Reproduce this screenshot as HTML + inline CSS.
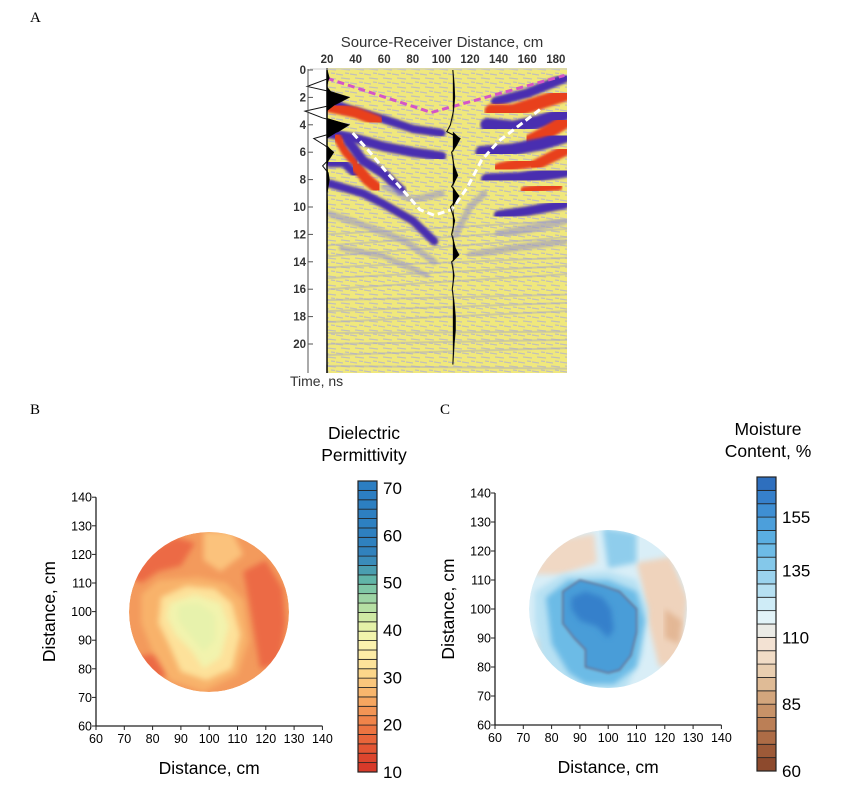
<!DOCTYPE html>
<html><head><meta charset="utf-8">
<style>
body{margin:0;background:#fff;width:865px;height:791px;overflow:hidden;font-family:"Liberation Sans",Arial,sans-serif;}
svg{position:absolute;left:0;top:0}
</style></head>
<body>
<svg id="fig" width="865" height="791" viewBox="0 0 865 791" xmlns="http://www.w3.org/2000/svg">
<defs>
<filter id="blur3"><feGaussianBlur stdDeviation="3"/></filter>
<filter id="blur2"><feGaussianBlur stdDeviation="2"/></filter>
<filter id="blur1"><feGaussianBlur stdDeviation="1.2"/></filter>
<clipPath id="clipA"><rect x="327" y="68" width="240" height="305"/></clipPath>
<clipPath id="clipB"><circle cx="209" cy="612" r="80"/></clipPath>
<clipPath id="clipC"><circle cx="608" cy="609" r="79"/></clipPath>
<pattern id="noise" width="14" height="9" patternUnits="userSpaceOnUse">
<rect width="14" height="9" fill="#f0e87c"/>
<path d="M0 2 L7 3 M5 6 L14 7 M9 1 L13 1.5" stroke="#b7b6c8" stroke-width="1.3" opacity="0.8"/>
</pattern>
</defs>
<text x="30" y="22" font-family="Liberation Serif,serif" font-size="15">A</text>
<text x="30" y="414" font-family="Liberation Serif,serif" font-size="15">B</text>
<text x="440" y="414" font-family="Liberation Serif,serif" font-size="15">C</text>
<g id="panelA"></g>
<g id="panelB"></g>
<g id="panelC"></g>
</svg>
<script>
const NS='http://www.w3.org/2000/svg';
function el(tag,attrs,parent,txt){const e=document.createElementNS(NS,tag);for(const k in attrs)e.setAttribute(k,attrs[k]);if(txt!==undefined)e.textContent=txt;parent.appendChild(e);return e;}

// ---------- Panel A data ----------
const aDistTicks=[20,40,60,80,100,120,140,160,180];
const aTimeTicks=[0,2,4,6,8,10,12,14,16,18,20];
const aPinkLine=[[20,0.6],[93,3.1],[186,0.4]];
const aWhiteLine=[[38,4.6],[50,6],[62,7.5],[75,9],[85,10.2],[95,10.6],[107,10.2],[118,8.6],[128,6.6],[140,5.2],[155,4],[170,2.8]];
const aBandColors=['#4a2fb0','#e8401c','#9a97c8'];
const aBands=[
 {c:0,w:0.6,p:[[20,2.3],[40,3.0],[60,3.6],[80,4.3],[100,4.6]]},
 {c:1,w:0.8,p:[[22,2.7],[40,3.1],[55,3.7]]},
 {c:0,w:0.7,p:[[20,4.6],[40,5.0],[60,5.6],[80,6.0],[100,6.3]]},
 {c:1,w:0.6,p:[[27,4.9],[33,6.0],[40,6.8]]},
 {c:0,w:0.6,p:[[22,6.8],[32,6.8],[40,7.6]]},
 {c:1,w:0.8,p:[[40,7.0],[48,8.0],[55,8.6]]},
 {c:0,w:0.7,p:[[35,5.2],[45,6.6],[60,7.6],[72,8.8]]},
 {c:0,w:0.6,p:[[22,8.3],[45,9.0],[60,9.8],[80,11.0],[95,12.5]]},
 {c:2,w:0.5,p:[[22,10.5],[50,11.5],[75,12.5],[95,14]]},
 {c:2,w:0.4,p:[[30,13],[60,13.6],[90,15]]},
 {c:0,w:0.7,p:[[138,2.3],[160,1.7],[186,0.6]]},
 {c:1,w:1.0,p:[[135,3.0],[150,3.0],[165,2.5],[186,1.8]]},
 {c:0,w:1.0,p:[[132,4.0],[150,4.2],[168,3.8],[186,3.2]]},
 {c:1,w:1.0,p:[[162,5.2],[175,4.5],[186,3.8]]},
 {c:0,w:0.9,p:[[128,6.0],[150,5.8],[170,5.4],[186,4.9]]},
 {c:1,w:0.8,p:[[140,7.2],[152,6.9],[165,6.7]]},
 {c:1,w:0.8,p:[[165,7.0],[176,6.4],[186,5.9]]},
 {c:0,w:0.9,p:[[132,8.0],[155,7.9],[186,7.4]]},
 {c:1,w:0.6,p:[[158,8.8],[172,8.6],[182,8.5]]},
 {c:0,w:0.7,p:[[140,10.6],[160,10.3],[186,9.8]]},
 {c:2,w:0.6,p:[[140,12],[165,11.5],[186,11]]},
 {c:2,w:0.5,p:[[120,13.5],[150,13],[186,12.5]]},
 {c:2,w:0.5,p:[[110,12],[120,10],[130,9]]},
 {c:2,w:0.5,p:[[60,8.5],[80,9.5],[100,9]]}
];
const aWaveT=[0,0.6,1.2,1.6,2.0,2.5,3.0,3.5,4.0,4.5,5.0,5.5,6.0,6.5,7.0,7.5,8.0,9,10,12,14,16,18,20,21.5];
const aWaveA=[0,0.1,-0.9,0.2,1.0,0.4,-1.0,-0.2,1.0,0.5,-0.6,-0.1,0.3,0.1,-0.2,0.05,0.1,0,0.02,0,0,0,0,0,0];
const aMidT=[0,1,2,3,4,4.5,5,5.5,6,7,7.7,8.5,9.2,10,11,12,13,13.5,14,15,16,17,18,19,20,21.5];
const aMidA=[0,0.1,0.15,0.05,-0.2,-0.5,0.6,0.3,-0.1,0.1,0.4,-0.1,0.5,-0.2,0.15,-0.1,0.2,0.5,-0.1,0.1,-0.05,0.1,0.2,0.2,0.1,0];

const AX=d=>327+(d-20)*1.43, AT=t=>70+t*13.7;
const A=document.getElementById('panelA');
const ag=el('g',{'clip-path':'url(#clipA)'},A);
el('rect',{x:327,y:68,width:240,height:305,fill:'url(#noise)'},ag);
for(let i=0;i<14;i++){el('line',{x1:327,y1:AT(12+i*0.8),x2:567,y2:AT(11+i*0.9-((i%3)*0.3)),stroke:'#a9a8c6','stroke-width':2,opacity:0.45},ag);}
aBands.forEach((b,i)=>{
 const p=el('polyline',{points:b.p.map(q=>AX(q[0])+','+AT(q[1])).join(' '),fill:'none',stroke:aBandColors[b.c],'stroke-width':b.w*13.7,'stroke-linecap':'round','stroke-linejoin':'round',filter:'url(#blur1)',opacity:b.c==2?0.6:1},ag);
 
 
});
let pk=el('polyline',{points:aPinkLine.map(q=>AX(q[0])+','+AT(q[1])).join(' '),fill:'none',stroke:'#d455c8','stroke-width':3,'stroke-dasharray':'7,4'},ag);


let wh=el('polyline',{points:aWhiteLine.map(q=>AX(q[0])+','+AT(q[1])).join(' '),fill:'none',stroke:'#fff','stroke-width':3,'stroke-dasharray':'7,4'},ag);


let mx=AX(108);
let mp=el('polyline',{points:aMidT.map((t,i)=>(mx+aMidA[i]*12)+','+AT(t)).join(' '),fill:'none',stroke:'#111','stroke-width':1.1},A);


let mf=el('path',{d:'M'+mx+','+AT(0)+' '+aMidT.map((t,i)=>'L'+(mx+Math.max(0,aMidA[i])*12)+','+AT(t)).join(' ')+' L'+mx+','+AT(21.5)+'Z',fill:'#000'},A);


let lx=AX(20);
el('line',{x1:lx,y1:68,x2:lx,y2:373,stroke:'#000','stroke-width':1.5},A);
let lw=el('polyline',{points:aWaveT.map((t,i)=>(lx+aWaveA[i]*22)+','+AT(t)).join(' '),fill:'none',stroke:'#111','stroke-width':1},A);


let lf=el('path',{d:'M'+lx+','+AT(0)+' '+aWaveT.map((t,i)=>'L'+(lx+Math.max(0,aWaveA[i])*22)+','+AT(t)).join(' ')+' L'+lx+','+AT(21.5)+'Z',fill:'#000'},A);


el('line',{x1:310,y1:69,x2:567,y2:69,stroke:'#ccc','stroke-width':1},A);
el('line',{x1:308,y1:69,x2:308,y2:373,stroke:'#555','stroke-width':1},A);
aDistTicks.forEach(d=>{const t=el('text',{x:AX(d),y:63,'font-size':11.5,'font-weight':'bold','text-anchor':'middle',fill:'#333'},A,d);});
aTimeTicks.forEach(v=>{el('line',{x1:308,y1:AT(v),x2:313,y2:AT(v),stroke:'#555'},A);const t=el('text',{x:306,y:AT(v)+4,'font-size':11.5,'font-weight':'bold','text-anchor':'end',fill:'#333'},A,v);});
let at=el('text',{x:442,y:47,'font-size':15,'text-anchor':'middle',fill:'#333'},A,'Source-Receiver Distance, cm');

let ay=el('text',{x:290,y:386,'font-size':14,fill:'#333'},A,'Time, ns');


// ---------- Maps ----------
const mapTicks=[60,70,80,90,100,110,120,130,140];
const bBarTicks=[10,20,30,40,50,60,70];
const bBarColors=['#d73a2a','#dc452d','#e35533','#e8653a','#ec7441','#f0844a','#f39555','#f6a660','#f8b66d','#fac67c','#fcd68a','#fde39a','#fdeca6','#fbf2ae','#f2f4ac','#e4f1a8','#cfe9a4','#b6dfa3','#9dd4a4','#7fc7a6','#61b5a8','#4a9eb0','#3a8cba','#3182bd','#2f81bf','#2e80c0','#2d80c1','#2d7fc1','#2c7fc1','#2c7ec2','#2c7ec2'];
const cBarTicks=[60,85,110,135,155];
const cBarColors=['#8d4a2d','#9d5a38','#ad6c46','#bb7f56','#c79268','#d3a67d','#dfbb96','#e9ceb0','#f1dcc6','#f3e2d3','#ebebe6','#e2f3f8','#cfecf7','#b6e0f2','#9bd3ee','#84c8ea','#6dbbe6','#5aaee1','#4c9fdb','#3f8fd3','#3680cb','#2e6fbe'];

function drawMap(G,ox,x0,y0,xs,ys,cx,cy,r,clip,shapes,barX,barY0,barY1,barColors,barTicks,bmin,bmax,title1,title2,title1x,baseFill){
 const X=d=>x0+(d-60)*xs, Y=d=>y0-(d-60)*ys;
 const g=el('g',{'clip-path':'url('+clip+')'},G);
 let bg=el('circle',{cx:cx,cy:cy,r:r,fill:baseFill},g);
 
 shapes.forEach(s=>{
  const p=el('polygon',{points:s.p.map(q=>X(q[0])+','+Y(q[1])).join(' '),fill:s.f,filter:'url(#'+(s.b||'blur3')+')'},g);
  if(s.s){p.setAttribute('stroke',s.s);p.setAttribute('stroke-width',1);}
  
  
 });
 el('line',{x1:x0,y1:y0-80*ys,x2:x0,y2:y0,stroke:'#222','stroke-width':1.3},G);
 el('line',{x1:x0,y1:y0,x2:x0+80*xs,y2:y0,stroke:'#222','stroke-width':1.3},G);
 mapTicks.forEach(v=>{
  el('line',{x1:X(v),y1:y0,x2:X(v),y2:y0+4,stroke:'#222'},G);
  el('line',{x1:x0-4,y1:Y(v),x2:x0,y2:Y(v),stroke:'#222'},G);
  let tx=el('text',{x:X(v),y:y0+17,'font-size':12.5,'text-anchor':'middle'},G,v);
  
  let ty=el('text',{x:x0-4,y:Y(v)+4.5,'font-size':12.5,'text-anchor':'end'},G,v);
  
 });
 let xt=el('text',{x:X(100),y:y0+48,'font-size':17.5,'text-anchor':'middle'},G,'Distance, cm');
 
 let yt=el('text',{x:0,y:0,'font-size':17.5,'text-anchor':'middle',transform:'translate('+(ox)+','+Y(100)+') rotate(-90)'},G,'Distance, cm');
 
 const n=barColors.length, h=(barY1-barY0)/n;
 barColors.forEach((c,i)=>{
  const rct=el('rect',{x:barX,y:barY1-(i+1)*h,width:19,height:h,fill:c,stroke:'#222','stroke-width':0.8},G);
  
 });
 el('rect',{x:barX,y:barY0,width:19,height:barY1-barY0,fill:'none',stroke:'#222','stroke-width':1.2},G);
 barTicks.forEach(v=>{
  const yy=barY1-(v-bmin)/(bmax-bmin)*(barY1-barY0);
  let t=el('text',{x:barX+25,y:yy+6,'font-size':17},G,v);
  
 });
 let t1=el('text',{x:title1x,y:barY0-42,'font-size':17.5,'text-anchor':'middle'},G,title1);
 
 el('text',{x:title1x,y:barY0-20,'font-size':17.5,'text-anchor':'middle'},G,title2);
}

const bShapes=[
 {f:'#ec6b45',p:[[72,112],[80,122],[88,126],[95,124],[90,116],[82,114],[76,110]]},
 {f:'#ec6b45',p:[[112,114],[120,118],[126,108],[127,96],[125,82],[118,80],[116,92],[114,104]]},
 {f:'#ec6b45',p:[[74,84],[80,76],[86,78],[84,86]]},
 {f:'#fbc27c',p:[[98,128],[108,128],[112,120],[104,114],[98,118]]},
 {f:'#f8b26a',p:[[76,106],[82,111],[96,112],[106,110],[112,104],[114,90],[110,78],[98,72],[86,76],[80,86],[76,96]]},
 {f:'#fde19a',p:[[83,105],[92,109],[102,108],[108,103],[111,92],[108,80],[99,76],[90,79],[86,88],[82,96]]},
 {f:'#f2f3ad',p:[[86,103],[95,106],[104,103],[107,95],[104,84],[98,80],[94,86],[88,92],[85,98]]},
 {f:'#e7f2ac',p:[[89,102],[96,103],[102,99],[102,90],[98,86],[93,92],[89,97]]}
];
const cShapes=[
 {f:'#f0d8c4',p:[[73,112],[82,124],[95,126],[96,116],[84,112]]},
 {f:'#efd3bc',p:[[110,116],[122,118],[128,104],[126,82],[118,80],[114,96],[112,108]]},
 {f:'#e3b795',p:[[120,100],[126,96],[125,88],[120,90]]},
 {f:'#efd3bc',p:[[74,90],[78,84],[84,80],[80,88]]},
 {f:'#8fcdec',p:[[98,128],[110,126],[110,116],[100,114]]},
 {f:'#b8e1f3',p:[[74,106],[84,112],[100,113],[110,110],[114,100],[112,84],[106,72],[94,72],[82,74],[76,84],[74,96]]},
 {f:'#6cbbe6',p:[[78,104],[86,110],[100,110],[110,106],[113,96],[110,80],[102,74],[92,74],[86,78],[80,88]]},
 {f:'#4a9dd8',s:'#6b3a3a',b:'blur1',p:[[84,106],[90,110],[98,108],[104,106],[110,100],[110,92],[108,84],[104,79],[100,78],[92,80],[92,86],[88,90],[84,95]]},
 {f:'#3680cb',p:[[87,104],[92,106],[98,104],[101,100],[102,93],[100,90],[96,94],[90,96],[87,100]]}
];
drawMap(document.getElementById('panelB'),55,96,726,2.83,2.86,209,612,80,'#clipB',bShapes,358,481,772,bBarColors,bBarTicks,10,71.5,'Dielectric','Permittivity',364,'#f39a5c');
drawMap(document.getElementById('panelC'),454,495,725,2.83,2.9,608,609,79,'#clipC',cShapes,757,477,771,cBarColors,cBarTicks,60,170,'Moisture','Content, %',768,'#d9eef7');
</script>
</body></html>
